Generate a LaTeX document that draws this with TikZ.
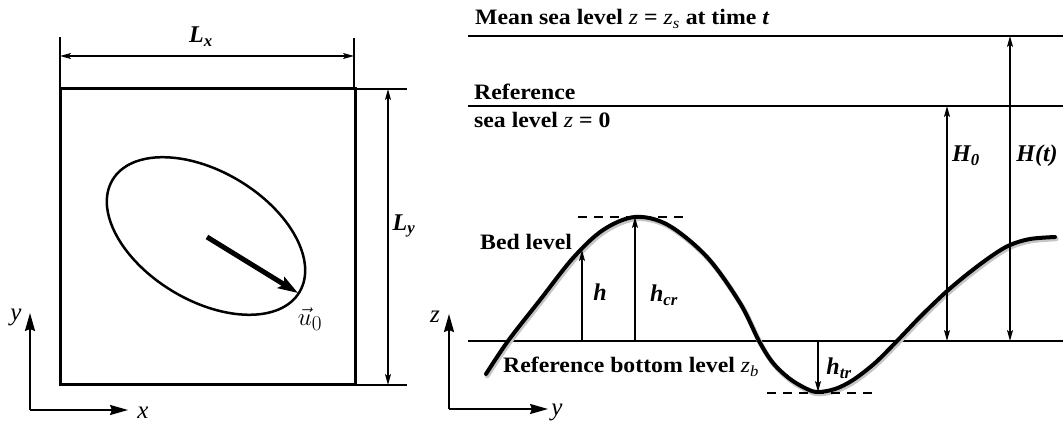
\documentclass[tikz,border=0pt]{standalone}
\usepackage{fontspec}
\setmainfont{Liberation Serif}
\newfontfamily\widefont[FakeStretch=1.08]{Liberation Serif}
\usetikzlibrary{arrows.meta}
\begin{document}
\begin{tikzpicture}[x=1pt,y=1pt,
  lbl/.style={font=\fontsize{22}{25}\widefont\bfseries, inner sep=0pt},
  sym/.style={font=\fontsize{24}{27}\selectfont\bfseries\itshape, inner sep=0pt},
  axl/.style={font=\fontsize{25}{28}\selectfont\itshape, inner sep=0pt},
  dim/.style={line width=1.5pt, {Stealth[length=11pt,width=6pt,inset=2.5pt]}-{Stealth[length=11pt,width=6pt,inset=2.5pt]}},
  uparr/.style={line width=1.5pt, -{Stealth[length=11pt,width=6pt,inset=2.5pt]}},
  extline/.style={line width=1.5pt},
  level/.style={line width=2.2pt},
  axis/.style={line width=2pt, -{Stealth[length=18pt,width=10pt,inset=2pt]}},
  dashedlvl/.style={line width=2pt, dash pattern=on 9pt off 7pt},
  bed/.style={line width=4pt, line cap=round},
]
\useasboundingbox (0,0) rectangle (1063,425);

% ---------------- left panel ----------------
\draw[line width=3pt] (60,40) rectangle (355,336);
% Lx dimension
\coordinate (lxt1) at (60,388); \coordinate (lxt2) at (354,387);
\draw[extline] (60,336) -- (lxt1);
\draw[extline] (354,336) -- (lxt2);
\coordinate (lxa) at (60,369); \coordinate (lxb) at (354,369);
\draw[dim] (lxa) -- (lxb);
\node[sym] (Lx) at (201,388) {L\textsubscript{x}};
% Ly dimension
\coordinate (lyt1) at (407,336); \coordinate (lyt2) at (407,40);
\draw[extline] (355,336) -- (lyt1);
\draw[extline] (355,40) -- (lyt2);
\coordinate (lya) at (388,336); \coordinate (lyb) at (388,40);
\draw[dim] (lya) -- (lyb);
\node[sym] (Ly) at (404,199) {L\textsubscript{y}};
% ellipse and velocity
\draw[line width=2.5pt] (206,189) ellipse [x radius=109, y radius=64.5, rotate=-31];
\coordinate (uc) at (207,188);
\coordinate (ut) at (298,132);
\draw[line width=5pt, -{Stealth[length=20pt,width=13pt,inset=4pt]}] (uc) -- (ut);
\node[inner sep=0pt, font=\fontsize{25}{27}\selectfont] (u0) at (310,106) {$\vec{u}_{\scalebox{0.85}{$\textstyle 0$}}$};
% axes
\coordinate (o1) at (30,15);
\coordinate (yt1) at (30,112);
\coordinate (xt1) at (128,15);
\draw[axis] (o1) -- (yt1);
\draw[axis] (o1) -- (xt1);
\node[axl] (ylab1) at (16,108) {y};
\node[axl] (xlab1) at (143,12) {x};

% ---------------- right panel ----------------
\draw[level] (468,389) -- (1063,389);
\draw[level] (468,319) -- (1063,319);
\draw[line width=1.6pt] (468,84) -- (1063,84);
\node[lbl, anchor=base west] (msl) at (475,400) {Mean sea level \textmd{\textit{z}} = \textmd{\textit{z\textsubscript{s}}} at time \textit{t}};
\node[lbl, anchor=base west] (ref1) at (474,325) {Reference};
\node[lbl, anchor=base west] (ref2) at (474,297) {sea level \textmd{\textit{z}} = 0};

% bed shadow and bed
\draw[line width=5pt, gray!45, line cap=round, shift={(1.2,-1.8)}] plot[smooth, tension=0.55] coordinates {
 (486,51) (508,84) (540,125) (573,167) (603,195) (635,208) (668,200) (707,168) (740,122) (759,84)
 (773,62) (790,46) (807,36) (818,33) (835,36) (853,45) (875,62) (897,84) (920,108) (946,133)
 (970,153) (993,170) (1010,180) (1030,186) (1055,188)};
\draw[bed] plot[smooth, tension=0.55] coordinates {
 (486,51) (508,84) (540,125) (573,167) (603,195) (635,208) (668,200) (707,168) (740,122) (759,84)
 (773,62) (790,46) (807,36) (818,33) (835,36) (853,45) (875,62) (897,84) (920,108) (946,133)
 (970,153) (993,170) (1010,180) (1030,186) (1055,188)};

% dashed crest / trough lines
\draw[dashedlvl] (578,208) -- (688,208);
\draw[dashedlvl] (767,32) -- (873,32);

% vertical measures
\coordinate (hb) at (582,84);  \coordinate (ht) at (582,175);
\coordinate (cb) at (635,84);  \coordinate (ct) at (635,208);
\coordinate (tb) at (818,84);  \coordinate (tt) at (818,33);
\coordinate (h0a) at (947,319); \coordinate (h0b) at (947,84);
\coordinate (hta) at (1010,389); \coordinate (htb) at (1010,84);
\draw[uparr] (hb) -- (ht);
\draw[uparr] (cb) -- (ct);
\draw[uparr] (tb) -- (tt);
\draw[dim] (h0a) -- (h0b);
\draw[dim] (hta) -- (htb);

\node[lbl, anchor=base west] (bedl) at (480,175) {Bed level};
\node[sym] (h) at (600,133) {h};
\node[sym] (hcr) at (664,130) {h\textsubscript{cr}};
\node[lbl, anchor=base west] (rbl) at (503,52) {Reference bottom level \textmd{\textit{z\textsubscript{b}}}};
\node[sym] (htr) at (839,57) {h\textsubscript{tr}};
\node[sym] (H0) at (966,269) {H\textsubscript{0}};
\node[sym] (Ht) at (1037,269) {H(t)};

% axes
\coordinate (o2) at (449,16);
\coordinate (zt2) at (449,111);
\coordinate (yt2) at (548,16);
\draw[axis] (o2) -- (zt2);
\draw[axis] (o2) -- (yt2);
\node[axl] (zlab) at (435,108) {z};
\node[axl] (ylab2) at (557,13) {y};
\end{tikzpicture}
\end{document}
